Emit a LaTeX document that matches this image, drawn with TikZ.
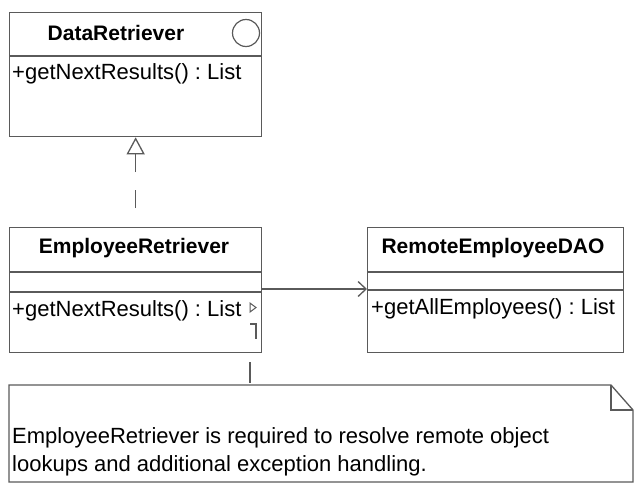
\documentclass[tikz,border=0pt]{standalone}
\usepackage{fontspec}
\setmainfont{Liberation Sans}
\usetikzlibrary{arrows.meta,calc}
\definecolor{ln}{HTML}{5A5A5A}
\frenchspacing
\tikzset{
  umlbox/.style={draw=ln, line width=1.3pt, rectangle, inner sep=0pt, anchor=north west},
  sepline/.style={draw=ln, line width=1.3pt},
  title/.style={font=\fontsize{21}{24}\selectfont\bfseries, inner sep=0pt},
  method/.style={font=\fontsize{22}{24}\selectfont, inner sep=0pt, anchor=west},
  conn/.style={draw=ln, line width=1.3pt},
}
\begin{document}
\begin{tikzpicture}[x=1pt,y=-1pt]
\useasboundingbox[fill=white] (0,0) rectangle (634,488);
% DataRetriever
\node[umlbox, minimum width=252pt, minimum height=124pt] (dr) at (9,12) {};
\draw[sepline] (9,56) -- (261,56);
\node[title] (drname) at (116,33) {DataRetriever};
\node[draw=ln, line width=1.2pt, circle, minimum size=27pt, inner sep=0pt] (drcirc) at (246,33) {};
\node[method] (drop) at (12,74) {+getNextResults() : List};
% EmployeeRetriever
\node[umlbox, minimum width=252pt, minimum height=125pt] (er) at (9,227) {};
\draw[sepline] (9,272) -- (261,272);
\draw[sepline] (9,292) -- (261,292);
\node[title] (ername) at (134,248) {EmployeeRetriever};
\node[method] (erop) at (12,311) {+getNextResults() : List};
% RemoteEmployeeDAO
\node[umlbox, minimum width=256pt, minimum height=125pt] (rd) at (367,227) {};
\draw[sepline] (367,272) -- (623,272);
\draw[sepline] (367,290) -- (623,290);
\node[title] (rdname) at (493,248) {RemoteEmployeeDAO};
\node[method] (rdop) at (371,309) {+getAllEmployees() : List};
% small marks
\draw[draw=ln, line width=1pt] (250,303) -- (256,307.5) -- (250,312) -- cycle;
\draw[draw=ln, line width=1.2pt] (250,324) -- (256,324) -- (256,339);
% note
\draw[draw=ln, line width=1.3pt] (9,385) -- (611,385) -- (633,410) -- (633,482) -- (9,482) -- cycle;
\draw[draw=ln, line width=1.3pt] (611,385) -- (611,410) -- (633,410);
\node[inner sep=0pt, minimum width=624pt, minimum height=97pt, anchor=north west] (note) at (9,385) {};
\node[method, align=left, font=\fontsize{22}{28}\selectfont] (notetext) at (12,452) {EmployeeRetriever is required to resolve remote object\\lookups and additional exception handling.};
% connectors
\draw[conn, dash pattern=on 0pt off 19pt on 18pt off 18pt on 40pt, -{Triangle[open, length=17pt, width=18pt, line width=1.3pt]}] (er.north) -- (dr.south);
\coordinate (as) at (261,289);
\coordinate (ae) at (367,289);
\draw[conn, -{Straight Barb[length=8pt, width=15pt, line width=1.3pt]}] (as) -- (ae);
\coordinate (nt) at (250,352);
\coordinate (nb) at (250,385);
\draw[conn, dash pattern=on 0pt off 10pt on 21pt off 20pt] (nt) -- (nb);
\end{tikzpicture}
\end{document}
